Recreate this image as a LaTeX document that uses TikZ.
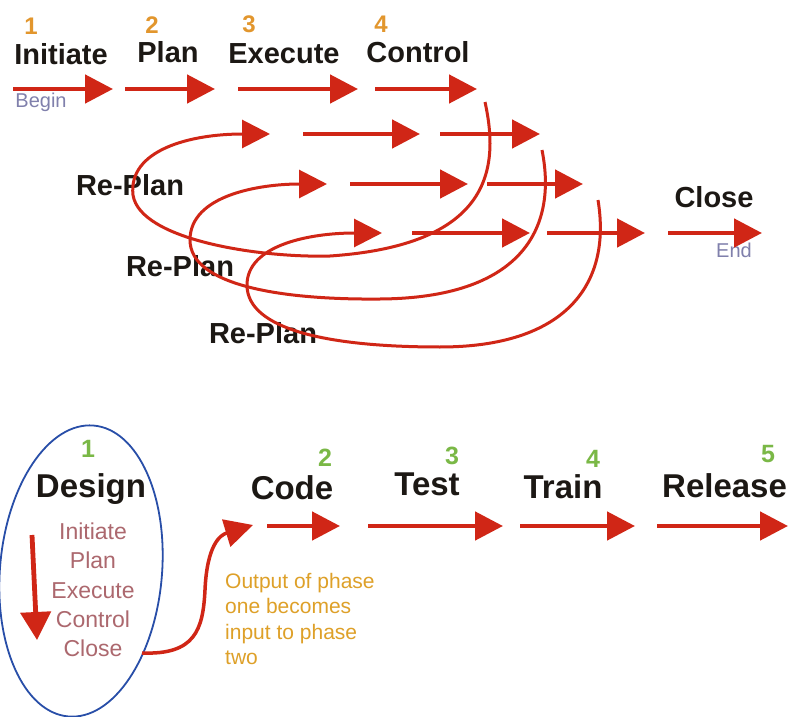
\documentclass[tikz,border=0pt]{standalone}
\usepackage{fontspec}
\setmainfont{Liberation Sans}
\usetikzlibrary{arrows.meta}

\definecolor{flowred}{RGB}{208,38,22}
\definecolor{stageorange}{RGB}{226,150,45}
\definecolor{stagegreen}{RGB}{122,184,70}
\definecolor{endgrey}{RGB}{128,128,172}
\definecolor{ringblue}{RGB}{40,78,168}
\definecolor{stepsrose}{RGB}{172,104,110}
\definecolor{noteorange}{RGB}{222,160,40}
\definecolor{labelblack}{RGB}{28,24,20}

\begin{document}
\begin{tikzpicture}[x=1pt,y=-1pt]
        \tikzstyle{flow}=[draw=flowred,line width=4.8pt,-{Triangle[length=28pt,width=28pt]}]
        \tikzstyle{replan}=[draw=flowred,line width=3pt,-{Triangle[length=28pt,width=28pt]}]
        \tikzstyle{phase}=[text=labelblack,font=\fontsize{29}{32}\selectfont\bfseries,inner sep=0pt,anchor=base]
        \tikzstyle{bigphase}=[text=labelblack,font=\fontsize{33}{36}\selectfont\bfseries,inner sep=0pt,anchor=base]
        \tikzstyle{topnum}=[text=stageorange,font=\fontsize{24}{26}\selectfont\bfseries,inner sep=0pt,anchor=base]
        \tikzstyle{lownum}=[text=stagegreen,font=\fontsize{25}{27}\selectfont\bfseries,inner sep=0pt,anchor=base]
        \tikzstyle{marker}=[text=endgrey,font=\fontsize{20}{22}\selectfont,inner sep=0pt,anchor=base]

        \fill[white] (0,0) rectangle (788,717);
        \useasboundingbox (0,0) rectangle (788,717);

        % top: the project cycle
        \draw (31,35) node[topnum] (n1) {1};
        \draw (152,34) node[topnum] (n2) {2};
        \draw (249,33) node[topnum] (n3) {3};
        \draw (381,33) node[topnum] (n4) {4};

        \draw (61,65) node[phase] (initiate) {Initiate};
        \draw (168,63) node[phase] (plan) {Plan};
        \draw (284,64) node[phase] (execute) {Execute};
        \draw (418,63) node[phase] (control) {Control};
        \draw (714,207) node[phase] (close) {Close};
        \draw (41,108) node[marker] (begin) {Begin};
        \draw (734,257) node[marker] (end) {End};

        \draw (130,195) node[phase] (replan1) {Re-Plan};
        \draw (180,276) node[phase] (replan2) {Re-Plan};
        \draw (263,343) node[phase] (replan3) {Re-Plan};

        \coordinate (a1) at (13,89);  \coordinate (a2) at (113,89);
        \coordinate (a3) at (125,89); \coordinate (a4) at (215,89);
        \coordinate (a5) at (238,89); \coordinate (a6) at (358,89);
        \coordinate (a7) at (375,89); \coordinate (a8) at (477,89);

        \coordinate (b1) at (303,134); \coordinate (b2) at (420,134);
        \coordinate (b3) at (440,134); \coordinate (b4) at (540,134);

        \coordinate (c1) at (350,184); \coordinate (c2) at (468,184);
        \coordinate (c3) at (487,184); \coordinate (c4) at (583,184);

        \coordinate (d1) at (412,233); \coordinate (d2) at (530,233);
        \coordinate (d3) at (547,233); \coordinate (d4) at (645,233);
        \coordinate (d5) at (668,233); \coordinate (d6) at (762,233);

        \draw[flow] (a1) -- (a2);
        \draw[flow] (a3) -- (a4);
        \draw[flow] (a5) -- (a6);
        \draw[flow] (a7) -- (a8);
        \draw[flow] (b1) -- (b2);
        \draw[flow] (b3) -- (b4);
        \draw[flow] (c1) -- (c2);
        \draw[flow] (c3) -- (c4);
        \draw[flow] (d1) -- (d2);
        \draw[flow] (d3) -- (d4);
        \draw[flow] (d5) -- (d6);

        % the three re-plan loops
        \coordinate (loopA) at (485,102); \coordinate (tipA) at (270,134);
        \coordinate (loopB) at (542,150); \coordinate (tipB) at (327,184);
        \coordinate (loopC) at (598,200); \coordinate (tipC) at (382,233);

        \draw[replan] (loopA) .. controls (500,170) and (490,245) .. (330,256)
            .. controls (260,258) and (140,240) .. (133,195)
            .. controls (128,150) and (190,134) .. (tipA);
        \draw[replan] (loopB) .. controls (558,230) and (520,298) .. (380,299)
            .. controls (280,300) and (190,285) .. (190,240)
            .. controls (190,195) and (260,184) .. (tipB);
        \draw[replan] (loopC) .. controls (612,285) and (565,347) .. (440,347)
            .. controls (330,347) and (247,330) .. (247,285)
            .. controls (247,245) and (310,233) .. (tipC);

        % bottom: the phases
        \draw[ringblue,line width=1.8pt,rotate around={-5:(81,571)}] (81,571) ellipse [x radius=81, y radius=146];

        \draw (88,457) node[lownum] (p1) {1};
        \draw (325,466) node[lownum] (p2) {2};
        \draw (452,464) node[lownum] (p3) {3};
        \draw (593,467) node[lownum] (p4) {4};
        \draw (768,462) node[lownum] (p5) {5};

        \draw (91,497) node[bigphase] (design) {Design};
        \draw (292,499) node[bigphase] (code) {Code};
        \draw (427,495) node[bigphase] (test) {Test};
        \draw (563,498) node[bigphase] (train) {Train};
        \draw (662,497) node[bigphase,anchor=base west] (release) {Release};

        \draw (93,590) node[text=stepsrose,font=\fontsize{23}{29.3}\selectfont,align=center,inner sep=0pt] (steps)
            {Initiate\\Plan\\Execute\\Control\\Close};
        \draw (225,573) node[text=noteorange,font=\fontsize{21}{25.3}\selectfont,align=left,inner sep=0pt,anchor=north west] (note)
            {Output of phase\\one becomes\\input to phase\\two};

        \coordinate (s1) at (32,535);  \coordinate (s2) at (37,640);
        \coordinate (e0) at (142,653); \coordinate (e1) at (253,525);
        \coordinate (e2) at (267,526); \coordinate (e3) at (340,526);
        \coordinate (e4) at (368,526); \coordinate (e5) at (503,526);
        \coordinate (e6) at (520,526); \coordinate (e7) at (635,526);
        \coordinate (e8) at (657,526); \coordinate (e9) at (788,526);

        \draw[flow,-{Triangle[length=28pt,width=30pt]}] (s1) -- (s2);
        \draw[replan,line width=3.5pt] (e0) .. controls (195,655) and (203,630) .. (205,590)
            .. controls (207,545) and (220,535) .. (e1);
        \draw[flow] (e2) -- (e3);
        \draw[flow] (e4) -- (e5);
        \draw[flow] (e6) -- (e7);
        \draw[flow] (e8) -- (e9);

    \end{tikzpicture}
\end{document}
